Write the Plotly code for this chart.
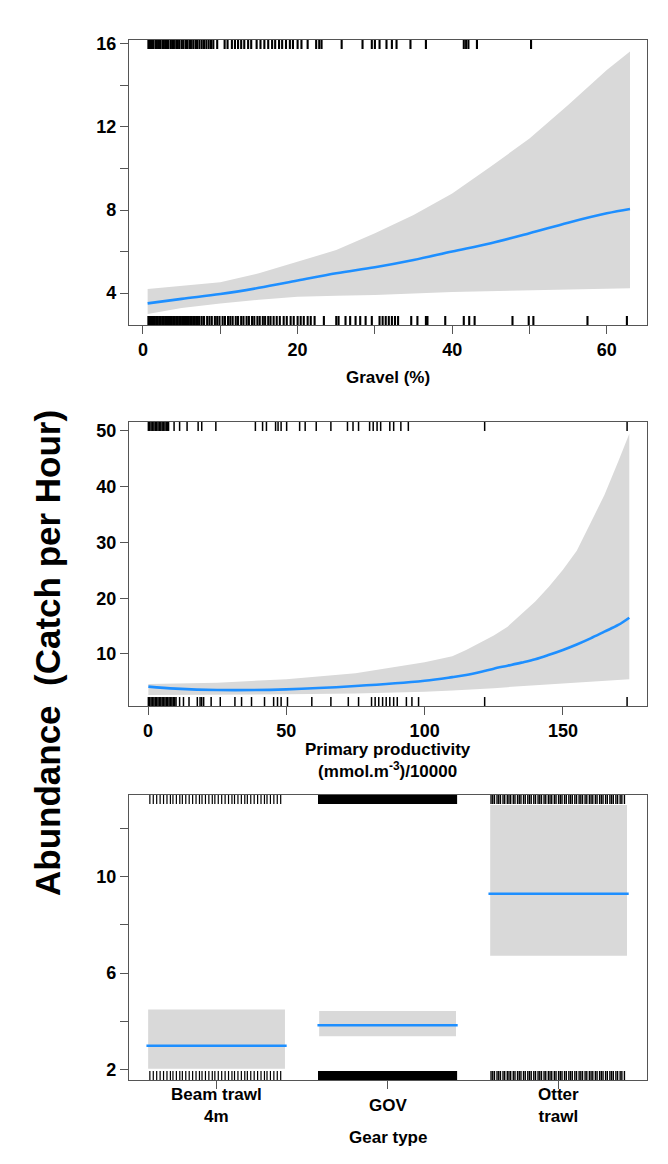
import plotly.graph_objects as go

# ---------------- data ----------------
# Panel 1: Gravel (%)
gravel_x = [0.6, 5, 10, 15, 20, 25, 30, 35, 40, 45, 50, 55, 60, 63]
gravel_fit = [3.50, 3.72, 3.95, 4.25, 4.60, 4.95, 5.24, 5.59, 6.00, 6.40, 6.88, 7.39, 7.84, 8.05]
gravel_hi = [4.19, 4.33, 4.52, 4.95, 5.51, 6.07, 6.88, 7.76, 8.80, 10.09, 11.45, 13.06, 14.75, 15.63]
gravel_lo = [2.99, 3.28, 3.50, 3.68, 3.82, 3.87, 3.90, 3.98, 4.05, 4.10, 4.14, 4.18, 4.21, 4.23]
gravel_rug_top = [0.7, 0.9, 1.1, 1.3, 1.6, 1.8, 2.0, 2.2, 2.5, 2.7, 2.9, 3.1, 3.3, 3.6, 3.8, 4.0,
                  4.3, 4.5, 4.7, 5.0, 5.2, 5.5, 5.7, 6.0, 6.2, 6.5, 6.8, 7.0, 7.3, 7.6, 7.9, 8.2,
                  8.5, 8.8, 9.1, 9.6, 10.56, 10.94, 11.5, 11.9, 12.3, 12.7, 13.1, 13.6, 14.0,
                  14.7, 15.2, 15.7, 16.2, 16.7, 17.1, 17.6, 18.0, 18.5, 19.0, 19.4, 20.0, 20.5,
                  21.3, 22.4, 22.8, 23.1, 25.7, 28.4, 29.6, 30.0, 30.6, 31.5, 32.2, 32.8, 34.6,
                  36.6, 41.5, 41.8, 42.1, 43.2, 50.2]
gravel_rug_bottom = [0.7, 0.9, 1.1, 1.3, 1.5, 1.7, 1.9, 2.1, 2.3, 2.5, 2.7, 2.9, 3.1, 3.3, 3.5,
                     3.7, 3.9, 4.1, 4.3, 4.5, 4.7, 4.9, 5.1, 5.3, 5.5, 5.7, 5.9, 6.1, 6.3, 6.5,
                     6.7, 6.9, 7.1, 7.3, 7.6, 7.9, 8.3, 8.6, 8.9, 9.3, 9.6, 9.9, 10.3, 10.6, 11.0,
                     11.3, 11.6, 12.0, 12.3, 12.7, 13.0, 13.4, 13.7, 14.1, 14.4, 14.8, 15.1, 15.5,
                     15.8, 16.2, 16.5, 16.9, 17.3, 17.7, 18.2, 18.6, 19.1, 19.5, 20.0, 20.4, 20.8,
                     21.3, 21.7, 22.2, 23.4, 25.0, 25.3, 26.2, 26.8, 27.5, 28.1, 28.8, 29.6, 30.6,
                     31.0, 31.4, 31.8, 32.2, 32.6, 33.0, 34.7, 35.5, 36.6, 36.8, 39.1, 41.5, 42.2,
                     42.9, 47.8, 49.9, 50.5, 57.5, 62.6]

# Panel 2: Primary productivity
pp_x = [0.1, 10, 25, 50, 75, 100, 110, 115, 122, 125, 130, 135, 140, 145, 150, 155, 160, 165, 170, 174]
pp_fit = [4.14, 3.78, 3.54, 3.66, 4.26, 5.21, 5.85, 6.23, 7.00, 7.36, 7.90, 8.45, 9.05, 9.85,
          10.72, 11.70, 12.80, 14.00, 15.20, 16.50]
pp_hi = [4.62, 4.70, 4.86, 5.46, 6.54, 8.51, 9.60, 10.72, 12.50, 13.30, 14.90, 17.20, 19.40,
         22.10, 25.10, 28.50, 33.50, 38.50, 44.50, 49.50]
pp_lo = [2.65, 2.70, 2.77, 2.77, 2.89, 3.24, 3.44, 3.54, 3.76, 3.85, 4.05, 4.25, 4.44, 4.60,
         4.74, 4.90, 5.04, 5.20, 5.34, 5.46]
pp_rug_top = [0.1, 0.6, 1.1, 1.6, 2.1, 2.6, 3.1, 3.6, 4.1, 4.6, 5.1, 5.6, 6.1, 6.6, 7.1, 7.4,
              9.4, 11.4, 14.1, 18.1, 19.4, 24.5, 38.8, 41.4, 42.8, 46.1, 47.0, 48.1, 50.1,
              54.8, 56.8, 60.8, 66.1, 72.1, 74.1, 76.1, 80.1, 81.4, 82.8, 84.1, 87.4, 88.8,
              91.4, 94.1, 121.7, 173.2]
pp_rug_bottom = [0.1, 0.6, 1.1, 1.6, 2.1, 2.6, 3.1, 3.6, 4.1, 4.6, 5.1, 5.6, 6.1, 6.6, 7.1, 7.6,
                 8.1, 8.6, 9.1, 9.6, 10.1, 11.4, 12.8, 14.8, 17.8, 18.8, 19.4, 20.1, 22.8, 26.1,
                 31.4, 33.8, 37.4, 42.1, 45.4, 46.8, 48.1, 50.4, 59.2, 66.1, 72.4, 76.1, 80.8,
                 82.1, 83.4, 84.8, 86.1, 87.4, 88.8, 90.1, 93.4, 95.4, 97.8, 121.7, 173.2]

# Panel 3: Gear type
gear_labels = ["Beam trawl<br>4m", "GOV", "Otter<br>trawl"]
gear_pos = [1, 2, 3]
gear_fit = [2.98, 3.83, 9.29]
gear_hi = [4.49, 4.42, 12.98]
gear_lo = [2.03, 3.38, 6.72]
beam_rug = [0.61, 0.63, 0.65, 0.67, 0.69, 0.71, 0.73, 0.745, 0.765, 0.785, 0.80, 0.82, 0.84,
            0.86, 0.88, 0.90, 0.915, 0.935, 0.955, 0.975, 0.99, 1.01, 1.03, 1.05, 1.07, 1.09,
            1.105, 1.125, 1.145, 1.165, 1.18, 1.20, 1.22, 1.24, 1.26, 1.28, 1.295, 1.315,
            1.335, 1.355, 1.375]
gov_rug = [1.605, 1.62, 1.635, 1.65, 1.665, 1.68, 1.695, 1.71, 1.725, 1.74, 1.755, 1.77, 1.785,
           1.80, 1.815, 1.83, 1.845, 1.86, 1.875, 1.89, 1.905, 1.92, 1.935, 1.95, 1.965, 1.98,
           1.995, 2.01, 2.025, 2.04, 2.055, 2.07, 2.085, 2.10, 2.115, 2.13, 2.145, 2.16, 2.175,
           2.19, 2.205, 2.22, 2.235, 2.25, 2.265, 2.28, 2.295, 2.31, 2.325, 2.34, 2.355, 2.37,
           2.385, 2.395]
otter_rug = [2.605, 2.615, 2.625, 2.64, 2.65, 2.66, 2.675, 2.685, 2.70, 2.71, 2.72, 2.735, 2.745,
             2.76, 2.77, 2.78, 2.795, 2.805, 2.82, 2.83, 2.84, 2.855, 2.865, 2.88, 2.89, 2.90,
             2.915, 2.925, 2.94, 2.95, 2.96, 2.975, 2.985, 3.00, 3.01, 3.02, 3.035, 3.045, 3.06,
             3.07, 3.08, 3.095, 3.105, 3.12, 3.13, 3.14, 3.155, 3.165, 3.18, 3.19, 3.20, 3.215,
             3.225, 3.24, 3.25, 3.26, 3.275, 3.285, 3.30, 3.31, 3.32, 3.335, 3.345, 3.36, 3.37,
             3.385]

# ---------------- styling ----------------
W, H = 668, 1164
BAND = "#d9d9d9"
LINE = "#1e8fff"
FRAME = "#555555"
FONT = "Liberation Sans"
RUGFRAC = 9 / 285

x_dom = [129 / W, 647 / W]
def ydom(top_px, bot_px):
    return [1 - bot_px / H, 1 - top_px / H]

ranges = {
    1: dict(x=[-1.81, 65.2], y=[2.46, 16.19], ydom=ydom(40, 325)),
    2: dict(x=[-6.9, 180.4], y=[0.67, 51.6], ydom=ydom(422, 706)),
    3: dict(x=[0.488, 3.517], y=[1.56, 13.39], ydom=ydom(795, 1080)),
}

fig = go.Figure()

def rug(vals, y0, y1):
    xs, ys = [], []
    for v in vals:
        xs += [v, v, None]
        ys += [y0, y1, None]
    return xs, ys

def add_band(xv, lo, hi, ax):
    fig.add_trace(go.Scatter(x=list(xv) + list(xv)[::-1], y=list(hi) + list(lo)[::-1],
                             fill="toself", fillcolor=BAND, line=dict(width=0),
                             mode="lines", hoverinfo="skip", xaxis="x" + ax, yaxis="y" + ax))

def add_rugs(top_vals, bot_vals, ax, key, width=1.2):
    y0, y1 = ranges[key]["y"]
    L = (y1 - y0) * RUGFRAC
    for vals, a, b in ((top_vals, y1 - L, y1), (bot_vals, y0, y0 + L)):
        xs, ys = rug(vals, a, b)
        fig.add_trace(go.Scatter(x=xs, y=ys, mode="lines", line=dict(color="black", width=width),
                                 hoverinfo="skip", xaxis="x" + ax, yaxis="y" + ax))

# Panel 1
add_band(gravel_x, gravel_lo, gravel_hi, "")
add_rugs(gravel_rug_top, gravel_rug_bottom, "", 1, width=2.1)
fig.add_trace(go.Scatter(x=gravel_x, y=gravel_fit, mode="lines", line=dict(color=LINE, width=2.6, shape="spline"),
                         xaxis="x", yaxis="y"))
# Panel 2
add_band(pp_x, pp_lo, pp_hi, "2")
add_rugs(pp_rug_top, pp_rug_bottom, "2", 2, width=1.5)
fig.add_trace(go.Scatter(x=pp_x, y=pp_fit, mode="lines", line=dict(color=LINE, width=2.6, shape="spline"),
                         xaxis="x2", yaxis="y2"))
# Panel 3
HW = 0.4
for p, f, lo, hi in zip(gear_pos, gear_fit, gear_lo, gear_hi):
    add_band([p - HW, p + HW], [lo, lo], [hi, hi], "3")
for vals, w in ((beam_rug, 1.2), (gov_rug, 4), (otter_rug, 1.4)):
    add_rugs(vals, vals, "3", 3, width=w)
for p, f in zip(gear_pos, gear_fit):
    fig.add_trace(go.Scatter(x=[p - 0.41, p + 0.41], y=[f, f], mode="lines",
                             line=dict(color=LINE, width=2.6), xaxis="x3", yaxis="y3"))

tickfont = dict(family=FONT, size=18, color="black", weight="bold")
def axis_common():
    return dict(showline=True, linecolor=FRAME, linewidth=1.3, mirror=True, ticks="outside",
                ticklen=8, tickwidth=1.1, tickcolor=FRAME, showgrid=False, zeroline=False,
                tickfont=tickfont, fixedrange=True)

def minor(d):
    return dict(dtick=d, ticks="outside", ticklen=8, tickwidth=1.1, tickcolor=FRAME, showgrid=False)

layout = dict(
    width=W, height=H, margin=dict(l=0, r=0, t=0, b=0, autoexpand=False),
    paper_bgcolor="white", plot_bgcolor="white", showlegend=False,
    font=dict(family=FONT, color="black"),
    xaxis=dict(axis_common(), domain=x_dom, range=ranges[1]["x"], anchor="y",
               tickmode="linear", tick0=0, dtick=20, minor=minor(10)),
    yaxis=dict(axis_common(), domain=ranges[1]["ydom"], range=ranges[1]["y"], anchor="x",
               tickmode="linear", tick0=0, dtick=4, minor=minor(2)),
    xaxis2=dict(axis_common(), domain=x_dom, range=ranges[2]["x"], anchor="y2",
                tickmode="linear", tick0=0, dtick=50),
    yaxis2=dict(axis_common(), domain=ranges[2]["ydom"], range=ranges[2]["y"], anchor="x2",
                tickmode="linear", tick0=0, dtick=10),
    xaxis3=dict(axis_common(), domain=x_dom, range=ranges[3]["x"], anchor="y3",
                tickvals=gear_pos, showticklabels=False),
    yaxis3=dict(axis_common(), domain=ranges[3]["ydom"], range=ranges[3]["y"], anchor="x3",
                tickmode="linear", tick0=2, dtick=4, minor=minor(2)),
)
fig.update_layout(**layout)

tfont = dict(family=FONT, size=17, color="black", weight="bold")
ann = []
xc = (x_dom[0] + x_dom[1]) / 2
ann.append(dict(text="Gravel (%)", x=xc, y=1 - 378 / H, xref="paper", yref="paper",
                showarrow=False, font=tfont, xanchor="center", yanchor="middle"))
ann.append(dict(text="Primary productivity<br>(mmol.m<sup>-3</sup>)/10000", x=xc, y=1 - 760 / H,
                xref="paper", yref="paper", showarrow=False, font=tfont,
                xanchor="center", yanchor="middle"))
ann.append(dict(text="Gear type", x=xc, y=1 - 1137 / H, xref="paper", yref="paper",
                showarrow=False, font=tfont, xanchor="center", yanchor="middle"))
for p, t in zip(gear_pos, gear_labels):
    ann.append(dict(text=t, x=p, y=1 - 1105 / H, xref="x3", yref="paper", showarrow=False,
                    font=tfont, xanchor="center", yanchor="middle"))
ann.append(dict(text="Abundance  (Catch per Hour)", x=47 / W, y=1 - 653 / H, xref="paper",
                yref="paper", showarrow=False, textangle=-90,
                font=dict(family=FONT, size=35, color="black", weight="bold"),
                xanchor="center", yanchor="middle"))
fig.update_layout(annotations=ann)

fig.write_html("out.html")
